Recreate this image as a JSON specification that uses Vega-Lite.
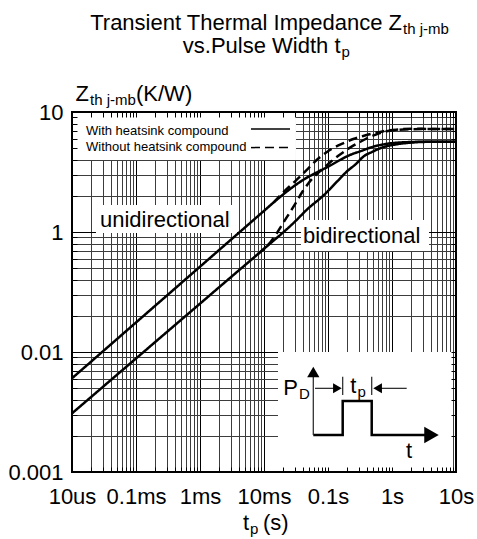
{
  "$schema": "https://vega.github.io/schema/vega-lite/v6.json",
  "width": 384,
  "height": 360,
  "autosize": {"type": "none"},
  "padding": {"left": 72, "top": 112, "right": 21, "bottom": 67},
  "background": "white",
  "config": {
    "view": {"stroke": "black", "strokeWidth": 2},
    "font": "Liberation Sans",
    "text": {"font": "Liberation Sans", "color": "black"},
    "axis": {"labelFont": "Liberation Sans"}
  },
  "resolve": {"axis": {"x": "independent", "y": "independent"}},
  "datasets": {
    "curves": [
      {"t": 0.00001, "z": 0.0604, "direction": "unidirectional", "compound": "with"},
      {"t": 0.0001, "z": 0.1762, "direction": "unidirectional", "compound": "with"},
      {"t": 0.001, "z": 0.514, "direction": "unidirectional", "compound": "with"},
      {"t": 0.003162, "z": 0.878, "direction": "unidirectional", "compound": "with"},
      {"t": 0.01, "z": 1.5, "direction": "unidirectional", "compound": "with"},
      {"t": 0.01585, "z": 1.858, "direction": "unidirectional", "compound": "with"},
      {"t": 0.02512, "z": 2.265, "direction": "unidirectional", "compound": "with"},
      {"t": 0.03981, "z": 2.692, "direction": "unidirectional", "compound": "with"},
      {"t": 0.0631, "z": 3.09, "direction": "unidirectional", "compound": "with"},
      {"t": 0.0897, "z": 3.396, "direction": "unidirectional", "compound": "with"},
      {"t": 0.1074, "z": 3.573, "direction": "unidirectional", "compound": "with"},
      {"t": 0.154, "z": 3.981, "direction": "unidirectional", "compound": "with"},
      {"t": 0.2208, "z": 4.385, "direction": "unidirectional", "compound": "with"},
      {"t": 0.3162, "z": 4.699, "direction": "unidirectional", "compound": "with"},
      {"t": 0.5105, "z": 5.14, "direction": "unidirectional", "compound": "with"},
      {"t": 0.794, "z": 5.408, "direction": "unidirectional", "compound": "with"},
      {"t": 1.183, "z": 5.546, "direction": "unidirectional", "compound": "with"},
      {"t": 1.995, "z": 5.623, "direction": "unidirectional", "compound": "with"},
      {"t": 3.981, "z": 5.662, "direction": "unidirectional", "compound": "with"},
      {"t": 10, "z": 5.662, "direction": "unidirectional", "compound": "with"},

      {"t": 0.01413, "z": 1.762, "direction": "unidirectional", "compound": "without"},
      {"t": 0.01995, "z": 2.138, "direction": "unidirectional", "compound": "without"},
      {"t": 0.02818, "z": 2.541, "direction": "unidirectional", "compound": "without"},
      {"t": 0.03652, "z": 2.891, "direction": "unidirectional", "compound": "without"},
      {"t": 0.05012, "z": 3.428, "direction": "unidirectional", "compound": "without"},
      {"t": 0.06653, "z": 3.981, "direction": "unidirectional", "compound": "without"},
      {"t": 0.08913, "z": 4.519, "direction": "unidirectional", "compound": "without"},
      {"t": 0.1259, "z": 5.07, "direction": "unidirectional", "compound": "without"},
      {"t": 0.1778, "z": 5.521, "direction": "unidirectional", "compound": "without"},
      {"t": 0.2483, "z": 5.957, "direction": "unidirectional", "compound": "without"},
      {"t": 0.3548, "z": 6.31, "direction": "unidirectional", "compound": "without"},
      {"t": 0.5105, "z": 6.645, "direction": "unidirectional", "compound": "without"},
      {"t": 0.7079, "z": 6.887, "direction": "unidirectional", "compound": "without"},
      {"t": 0.9311, "z": 7.047, "direction": "unidirectional", "compound": "without"},
      {"t": 1.413, "z": 7.194, "direction": "unidirectional", "compound": "without"},
      {"t": 1.995, "z": 7.244, "direction": "unidirectional", "compound": "without"},
      {"t": 3.981, "z": 7.228, "direction": "unidirectional", "compound": "without"},
      {"t": 10, "z": 7.211, "direction": "unidirectional", "compound": "without"},

      {"t": 0.00001, "z": 0.0308, "direction": "bidirectional", "compound": "with"},
      {"t": 0.0001, "z": 0.0883, "direction": "bidirectional", "compound": "with"},
      {"t": 0.001, "z": 0.2529, "direction": "bidirectional", "compound": "with"},
      {"t": 0.003162, "z": 0.428, "direction": "bidirectional", "compound": "with"},
      {"t": 0.01, "z": 0.7244, "direction": "bidirectional", "compound": "with"},
      {"t": 0.03162, "z": 1.245, "direction": "bidirectional", "compound": "with"},
      {"t": 0.04645, "z": 1.531, "direction": "bidirectional", "compound": "with"},
      {"t": 0.08511, "z": 2.018, "direction": "bidirectional", "compound": "with"},
      {"t": 0.1413, "z": 2.661, "direction": "bidirectional", "compound": "with"},
      {"t": 0.1959, "z": 3.184, "direction": "bidirectional", "compound": "with"},
      {"t": 0.2805, "z": 3.733, "direction": "bidirectional", "compound": "with"},
      {"t": 0.3565, "z": 4.246, "direction": "bidirectional", "compound": "with"},
      {"t": 0.5012, "z": 4.677, "direction": "bidirectional", "compound": "with"},
      {"t": 0.6494, "z": 4.984, "direction": "bidirectional", "compound": "with"},
      {"t": 1.183, "z": 5.383, "direction": "bidirectional", "compound": "with"},
      {"t": 1.995, "z": 5.559, "direction": "bidirectional", "compound": "with"},
      {"t": 3.981, "z": 5.649, "direction": "bidirectional", "compound": "with"},
      {"t": 10, "z": 5.662, "direction": "bidirectional", "compound": "with"},

      {"t": 0.007943, "z": 0.652, "direction": "bidirectional", "compound": "without"},
      {"t": 0.01, "z": 0.7244, "direction": "bidirectional", "compound": "without"},
      {"t": 0.01259, "z": 0.822, "direction": "bidirectional", "compound": "without"},
      {"t": 0.01585, "z": 0.977, "direction": "bidirectional", "compound": "without"},
      {"t": 0.01995, "z": 1.189, "direction": "bidirectional", "compound": "without"},
      {"t": 0.02512, "z": 1.445, "direction": "bidirectional", "compound": "without"},
      {"t": 0.03162, "z": 1.758, "direction": "bidirectional", "compound": "without"},
      {"t": 0.03981, "z": 2.163, "direction": "bidirectional", "compound": "without"},
      {"t": 0.05012, "z": 2.57, "direction": "bidirectional", "compound": "without"},
      {"t": 0.0631, "z": 2.951, "direction": "bidirectional", "compound": "without"},
      {"t": 0.07943, "z": 3.305, "direction": "bidirectional", "compound": "without"},
      {"t": 0.1, "z": 3.673, "direction": "bidirectional", "compound": "without"},
      {"t": 0.1259, "z": 4.074, "direction": "bidirectional", "compound": "without"},
      {"t": 0.1585, "z": 4.467, "direction": "bidirectional", "compound": "without"},
      {"t": 0.2239, "z": 5.07, "direction": "bidirectional", "compound": "without"},
      {"t": 0.3162, "z": 5.623, "direction": "bidirectional", "compound": "without"},
      {"t": 0.4529, "z": 6.194, "direction": "bidirectional", "compound": "without"},
      {"t": 0.631, "z": 6.637, "direction": "bidirectional", "compound": "without"},
      {"t": 0.826, "z": 6.918, "direction": "bidirectional", "compound": "without"},
      {"t": 1.259, "z": 7.112, "direction": "bidirectional", "compound": "without"},
      {"t": 1.995, "z": 7.194, "direction": "bidirectional", "compound": "without"},
      {"t": 3.981, "z": 7.211, "direction": "bidirectional", "compound": "without"},
      {"t": 10, "z": 7.211, "direction": "bidirectional", "compound": "without"}
    ],
    "boxes": [
      {"t": 0.0000104, "t2": 0.0316, "z": 3.98, "z2": 9.7},
      {"t": 0.0000237, "t2": 0.00379, "z": 0.981, "z2": 1.68},
      {"t": 0.0379, "t2": 3.79, "z": 0.695, "z2": 1.259},
      {"t": 0.01655, "t2": 8.66, "z": 0.0103, "z2": 0.1}
    ],
    "legendLines": [
      {"compound": "with", "t": 0.00626, "t2": 0.0255, "z": 7.2},
      {"compound": "without", "t": 0.00626, "t2": 0.0255, "z": 5.05}
    ],
    "legendText": [
      {"label": "With heatsink compound", "t": 0.00001655, "z": 6.43},
      {"label": "Without heatsink compound", "t": 0.00001655, "z": 4.73}
    ],
    "bigRight": [
      {"label": "Transient Thermal Impedance Z", "t": 1.433, "z": 48.24},
      {"label": "vs.Pulse Width t", "t": 0.1568, "z": 30.83},
      {"label": "Z", "t": 0.00001842, "z": 12.36},
      {"label": "t", "t": 0.00583, "z": 0.00329},
      {"label": "P", "t": 0.03398, "z": 0.0438},
      {"label": "t", "t": 0.2788, "z": 0.04553}
    ],
    "subs": [
      {"label": "th j-mb", "t": 1.433, "z": 48.24},
      {"label": "p", "t": 0.1568, "z": 30.83},
      {"label": "th j-mb", "t": 0.00001842, "z": 12.36},
      {"label": "p", "t": 0.00583, "z": 0.00329},
      {"label": "D", "t": 0.03398, "z": 0.0438},
      {"label": "p", "t": 0.2788, "z": 0.04553}
    ],
    "bigLeft": [
      {"label": "(K/W)", "t": 0.0001, "z": 12.36},
      {"label": "(s)", "t": 0.00965, "z": 0.00329},
      {"label": "unidirectional", "t": 0.00002739, "z": 1.1006},
      {"label": "bidirectional", "t": 0.04069, "z": 0.802},
      {"label": "t", "t": 1.654, "z": 0.01308}
    ],
    "pulse": [
      {"i": 1, "t": 0.0589, "z": 0.02034},
      {"i": 2, "t": 0.1697, "z": 0.02034},
      {"i": 3, "t": 0.1697, "z": 0.0391},
      {"i": 4, "t": 0.482, "z": 0.0391},
      {"i": 5, "t": 0.482, "z": 0.02034},
      {"i": 6, "t": 4.14, "z": 0.02034}
    ],
    "insetRules": [
      {"t": 0.0589, "t2": 0.0589, "z": 0.02034, "z2": 0.0681},
      {"t": 0.1697, "t2": 0.1697, "z": 0.0438, "z2": 0.0623},
      {"t": 0.482, "t2": 0.482, "z": 0.0438, "z2": 0.0623},
      {"t": 0.0626, "t2": 0.1403, "z": 0.0498, "z2": 0.0498},
      {"t": 0.5957, "t2": 1.697, "z": 0.0498, "z2": 0.0498}
    ]
  },
  "layer": [
    {
      "data": {"name": "boxes"},
      "mark": {"type": "rect", "fill": "white", "strokeWidth": 0},
      "encoding": {
        "x": {"field": "t", "type": "quantitative", "scale": {"type": "log", "domain": [0.00001, 10], "nice": false},
          "axis": {"orient": "top", "values": [0.00001,0.00002,0.00003,0.00004,0.00005,0.00006,0.00007,0.00008,0.00009,0.0001,0.0002,0.0003,0.0004,0.0005,0.0006,0.0007,0.0008,0.0009,0.001,0.002,0.003,0.004,0.005,0.006,0.007,0.008,0.009,0.01,0.02,0.03,0.04,0.05,0.06,0.07,0.08,0.09,0.1,0.2,0.3,0.4,0.5,0.6,0.7,0.8,0.9,1,2,3,4,5,6,7,8,9,10],
            "grid": false, "domain": false, "labels": false, "ticks": true, "tickSize": 5, "tickColor": "black", "tickWidth": 1, "offset": -5, "title": null, "zindex": 1}},
        "x2": {"field": "t2"},
        "y": {"field": "z", "type": "quantitative", "scale": {"type": "log", "domain": [0.01, 10], "nice": false},
          "axis": {"orient": "right", "values": [0.01,0.02,0.03,0.04,0.05,0.06,0.07,0.08,0.09,0.1,0.2,0.3,0.4,0.5,0.6,0.7,0.8,0.9,1,2,3,4,5,6,7,8,9,10],
            "grid": false, "domain": false, "labels": false, "ticks": true, "tickSize": 5, "tickColor": "black", "tickWidth": 1, "offset": -5, "title": null, "zindex": 1}},
        "y2": {"field": "z2"}
      }
    },
    {
      "data": {"name": "curves"},
      "mark": {"type": "line", "strokeWidth": 2.5, "color": "black", "interpolate": "monotone"},
      "encoding": {
        "x": {"field": "t", "type": "quantitative", "scale": {"type": "log", "domain": [0.00001, 10], "nice": false},
          "axis": {"orient": "bottom", "values": [0.00001,0.00002,0.00003,0.00004,0.00005,0.00006,0.00007,0.00008,0.00009,0.0001,0.0002,0.0003,0.0004,0.0005,0.0006,0.0007,0.0008,0.0009,0.001,0.002,0.003,0.004,0.005,0.006,0.007,0.008,0.009,0.01,0.02,0.03,0.04,0.05,0.06,0.07,0.08,0.09,0.1,0.2,0.3,0.4,0.5,0.6,0.7,0.8,0.9,1,2,3,4,5,6,7,8,9,10],
            "grid": true, "gridWidth": 1,
            "gridColor": {"condition": {"test": "datum.value == 0.00001 || datum.value == 0.0001 || datum.value == 0.001 || datum.value == 0.01 || datum.value == 0.1 || datum.value == 1 || datum.value == 10", "value": "#000000"}, "value": "#3c3c3c"},
            "ticks": false, "tickSize": 0, "domain": false,
            "labelExpr": "datum.value == 0.00001 ? '10us' : datum.value == 0.0001 ? '0.1ms' : datum.value == 0.001 ? '1ms' : datum.value == 0.01 ? '10ms' : datum.value == 0.1 ? '0.1s' : datum.value == 1 ? '1s' : datum.value == 10 ? '10s' : ''",
            "labelFontSize": 22, "labelColor": "black", "labelPadding": 14, "labelFlush": false, "labelOverlap": false, "labelBound": false,
            "title": null, "zindex": 0}},
        "y": {"field": "z", "type": "quantitative", "scale": {"type": "log", "domain": [0.01, 10], "nice": false},
          "axis": {"orient": "left", "values": [0.01,0.02,0.03,0.04,0.05,0.06,0.07,0.08,0.09,0.1,0.2,0.3,0.4,0.5,0.6,0.7,0.8,0.9,1,2,3,4,5,6,7,8,9,10],
            "grid": true, "gridWidth": 1,
            "gridColor": {"condition": {"test": "datum.value == 0.01 || datum.value == 0.1 || datum.value == 1 || datum.value == 10", "value": "#000000"}, "value": "#3c3c3c"},
            "ticks": false, "tickSize": 0, "domain": false,
            "labelExpr": "datum.value == 10 ? '10' : datum.value == 1 ? '1' : datum.value == 0.1 ? '0.01' : datum.value == 0.01 ? '0.001' : ''",
            "labelFontSize": 22, "labelColor": "black", "labelPadding": 9, "labelOverlap": false, "labelBound": false,
            "title": null, "zindex": 0}},
        "detail": {"field": "direction", "type": "nominal"},
        "strokeDash": {"field": "compound", "type": "nominal", "scale": {"domain": ["with", "without"], "range": [[1, 0], [9, 5]]}, "legend": null}
      }
    },
    {
      "data": {"name": "legendLines"},
      "mark": {"type": "rule", "strokeWidth": 1.5, "color": "black"},
      "encoding": {
        "x": {"field": "t", "type": "quantitative", "scale": {"type": "log", "domain": [0.00001, 10], "nice": false}, "axis": null},
        "x2": {"field": "t2"},
        "y": {"field": "z", "type": "quantitative", "scale": {"type": "log", "domain": [0.01, 10], "nice": false}, "axis": null},
        "strokeDash": {"field": "compound", "type": "nominal", "scale": {"domain": ["with", "without"], "range": [[1, 0], [9, 5]]}, "legend": null}
      }
    },
    {
      "data": {"name": "legendText"},
      "mark": {"type": "text", "align": "left", "baseline": "alphabetic", "fontSize": 13, "color": "black"},
      "encoding": {
        "x": {"field": "t", "type": "quantitative", "scale": {"type": "log", "domain": [0.00001, 10], "nice": false}, "axis": null},
        "y": {"field": "z", "type": "quantitative", "scale": {"type": "log", "domain": [0.01, 10], "nice": false}, "axis": null},
        "text": {"field": "label"}
      }
    },
    {
      "data": {"name": "bigRight"},
      "mark": {"type": "text", "align": "right", "baseline": "alphabetic", "fontSize": 22, "color": "black"},
      "encoding": {
        "x": {"field": "t", "type": "quantitative", "scale": {"type": "log", "domain": [0.00001, 10], "nice": false}, "axis": null},
        "y": {"field": "z", "type": "quantitative", "scale": {"type": "log", "domain": [0.01, 10], "nice": false}, "axis": null},
        "text": {"field": "label"}
      }
    },
    {
      "data": {"name": "subs"},
      "mark": {"type": "text", "align": "left", "baseline": "alphabetic", "fontSize": 15, "dx": 1, "dy": 4, "color": "black"},
      "encoding": {
        "x": {"field": "t", "type": "quantitative", "scale": {"type": "log", "domain": [0.00001, 10], "nice": false}, "axis": null},
        "y": {"field": "z", "type": "quantitative", "scale": {"type": "log", "domain": [0.01, 10], "nice": false}, "axis": null},
        "text": {"field": "label"}
      }
    },
    {
      "data": {"name": "bigLeft"},
      "mark": {"type": "text", "align": "left", "baseline": "alphabetic", "fontSize": 22, "color": "black"},
      "encoding": {
        "x": {"field": "t", "type": "quantitative", "scale": {"type": "log", "domain": [0.00001, 10], "nice": false}, "axis": null},
        "y": {"field": "z", "type": "quantitative", "scale": {"type": "log", "domain": [0.01, 10], "nice": false}, "axis": null},
        "text": {"field": "label"}
      }
    },
    {
      "data": {"name": "pulse"},
      "mark": {"type": "line", "strokeWidth": 2.5, "color": "black", "strokeJoin": "miter", "strokeCap": "butt"},
      "encoding": {
        "x": {"field": "t", "type": "quantitative", "scale": {"type": "log", "domain": [0.00001, 10], "nice": false},
          "axis": {"orient": "bottom", "values": [0.00001,0.00002,0.00003,0.00004,0.00005,0.00006,0.00007,0.00008,0.00009,0.0001,0.0002,0.0003,0.0004,0.0005,0.0006,0.0007,0.0008,0.0009,0.001,0.002,0.003,0.004,0.005,0.006,0.007,0.008,0.009,0.01,0.02,0.03,0.04,0.05,0.06,0.07,0.08,0.09,0.1,0.2,0.3,0.4,0.5,0.6,0.7,0.8,0.9,1,2,3,4,5,6,7,8,9,10],
            "grid": false, "domain": false, "labels": false, "ticks": true, "tickSize": 5, "tickColor": "black", "tickWidth": 1, "offset": -5, "title": null, "zindex": 1}},
        "y": {"field": "z", "type": "quantitative", "scale": {"type": "log", "domain": [0.01, 10], "nice": false},
          "axis": {"orient": "left", "values": [0.01,0.02,0.03,0.04,0.05,0.06,0.07,0.08,0.09,0.1,0.2,0.3,0.4,0.5,0.6,0.7,0.8,0.9,1,2,3,4,5,6,7,8,9,10],
            "grid": false, "domain": false, "labels": false, "ticks": true, "tickSize": 5, "tickColor": "black", "tickWidth": 1, "offset": -5, "title": null, "zindex": 1}},
        "order": {"field": "i", "type": "quantitative"}
      }
    },
    {
      "data": {"name": "insetRules"},
      "mark": {"type": "rule", "strokeWidth": 1.2, "color": "#222222"},
      "encoding": {
        "x": {"field": "t", "type": "quantitative", "scale": {"type": "log", "domain": [0.00001, 10], "nice": false}, "axis": null},
        "x2": {"field": "t2"},
        "y": {"field": "z", "type": "quantitative", "scale": {"type": "log", "domain": [0.01, 10], "nice": false}, "axis": null},
        "y2": {"field": "z2"}
      }
    },
    {
      "data": {"values": [{}]},
      "mark": {"type": "point", "shape": "triangle-up", "filled": true, "size": 150, "color": "black", "opacity": 1},
      "encoding": {
        "x": {"datum": 0.0589, "type": "quantitative", "scale": {"type": "log", "domain": [0.00001, 10], "nice": false}, "axis": null},
        "y": {"datum": 0.0681, "type": "quantitative", "scale": {"type": "log", "domain": [0.01, 10], "nice": false}, "axis": null}
      }
    },
    {
      "data": {"values": [{}]},
      "mark": {"type": "point", "shape": "triangle-right", "filled": true, "size": 280, "color": "black", "opacity": 1},
      "encoding": {
        "x": {"datum": 4.14, "type": "quantitative", "scale": {"type": "log", "domain": [0.00001, 10], "nice": false}, "axis": null},
        "y": {"datum": 0.02034, "type": "quantitative", "scale": {"type": "log", "domain": [0.01, 10], "nice": false}, "axis": null}
      }
    },
    {
      "data": {"values": [{}]},
      "mark": {"type": "point", "shape": "triangle-right", "filled": true, "size": 100, "color": "black", "opacity": 1},
      "encoding": {
        "x": {"datum": 0.1403, "type": "quantitative", "scale": {"type": "log", "domain": [0.00001, 10], "nice": false}, "axis": null},
        "y": {"datum": 0.0498, "type": "quantitative", "scale": {"type": "log", "domain": [0.01, 10], "nice": false}, "axis": null}
      }
    },
    {
      "data": {"values": [{}]},
      "mark": {"type": "point", "shape": "triangle-left", "filled": true, "size": 100, "color": "black", "opacity": 1},
      "encoding": {
        "x": {"datum": 0.5957, "type": "quantitative", "scale": {"type": "log", "domain": [0.00001, 10], "nice": false}, "axis": null},
        "y": {"datum": 0.0498, "type": "quantitative", "scale": {"type": "log", "domain": [0.01, 10], "nice": false}, "axis": null}
      }
    }
  ]
}
